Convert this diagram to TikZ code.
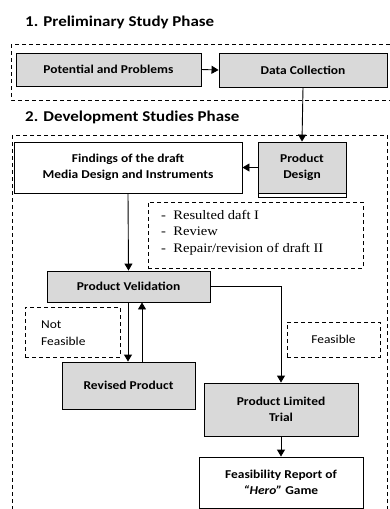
\documentclass[tikz,border=0pt]{standalone}
\usepackage{fontspec}
\setmainfont{Carlito}
\newfontfamily\boxfont[FakeStretch=1.12]{Carlito}
\newfontfamily\ttlfont[FakeStretch=1.13]{Carlito}
\newfontfamily\serifnote[FakeStretch=1.12]{Liberation Serif}
\usetikzlibrary{arrows.meta}
\definecolor{boxgray}{HTML}{D9D9D9}
\tikzset{
  graybox/.style={draw=black, line width=0.9pt, fill=boxgray, align=center, font=\boxfont\fontsize{12}{15.5}\selectfont\bfseries, inner sep=0pt},
  whitebox/.style={draw=black, line width=0.9pt, fill=white, align=center, font=\boxfont\fontsize{12}{15.5}\selectfont\bfseries, inner sep=0pt},
  notebox/.style={draw=black, line width=0.8pt, dash pattern=on 4pt off 3pt, inner sep=0pt},
  phase/.style={draw=black, line width=0.8pt, dash pattern=on 4pt off 3pt},
  arr/.style={line width=0.9pt, -{Triangle[length=7pt,width=8pt]}},
  ttl/.style={anchor=west, font=\ttlfont\fontsize{15}{18}\selectfont\bfseries, inner sep=0pt}
}
\begin{document}
\begin{tikzpicture}[x=1pt,y=-1pt]
\useasboundingbox (0,0) rectangle (389,509);
% phase frames
\draw[phase] (11,44) rectangle (400,100);
\draw[phase] (12,135) rectangle (387,520);
\node[ttl] (t1) at (25,22) {1. Preliminary Study Phase};
\node[ttl] (t2) at (25,117) {2. Development Studies Phase};
% phase 1
\node[graybox, minimum width=185pt, minimum height=33pt] (pp) at (108.5,69.5) {Potential and Problems};
\node[graybox, minimum width=168pt, minimum height=34pt] (dc) at (303,70) {Data Collection};
% phase 2
\node[whitebox, minimum width=228pt, minimum height=51pt] (fd) at (128,167.5) {Findings of the draft\\Media Design and Instruments};
\node[draw=black, line width=0.9pt, fill=white, minimum width=88pt, minimum height=55pt, inner sep=0pt] (pdo) at (302,169.5) {};
\node[graybox, minimum width=88pt, minimum height=51pt] (pd) at (302,167.5) {Product\\Design};
\node[notebox, minimum width=215pt, minimum height=66pt] (note) at (255.5,235) {};
\node[anchor=north west, inner sep=0pt, align=left, font=\serifnote\fontsize{13}{16.5}\selectfont] (notetxt) at (161,210) {-\ \ Resulted daft I\\-\ \ Review\\-\ \ Repair/revision of draft II};
\node[graybox, minimum width=163pt, minimum height=31pt] (pv) at (128.5,286.5) {Product Velidation};
\node[notebox, minimum width=95pt, minimum height=50pt] (nf) at (72.5,332) {};
\node[anchor=north west, inner sep=0pt, align=left, font=\boxfont\fontsize{12}{17}\selectfont] (nftxt) at (41,321) {Not\\Feasible};
\node[notebox, minimum width=93pt, minimum height=35pt, font=\boxfont\fontsize{12}{14}\selectfont] (fe) at (333.5,339.5) {Feasible};
\node[graybox, minimum width=133pt, minimum height=47pt] (rp) at (128.5,385.5) {Revised Product};
\node[graybox, minimum width=154pt, minimum height=53pt] (plt) at (281,409.5) {Product Limited\\Trial};
\node[whitebox, minimum width=164pt, minimum height=51pt] (fr) at (281,482.5) {Feasibility Report of\\\textit{“Hero”} Game};
% connectors
\draw[arr] (pp.east) -- (dc.west);
\draw[arr] (dc.south) -- (pd.north);
\draw[arr] (pd.west) -- (fd.east);
\draw[arr] (fd.south) -- (pv.north);
\draw[arr] ([xshift=-0.5pt]pv.south) -- ([xshift=-0.5pt]rp.north);
\draw[arr] ([xshift=13.5pt]rp.north) -- ([xshift=13.5pt]pv.south);
\draw[arr] (pv.east) -| (plt.north);
\draw[arr] (plt.south) -- (fr.north);
\end{tikzpicture}
\end{document}
